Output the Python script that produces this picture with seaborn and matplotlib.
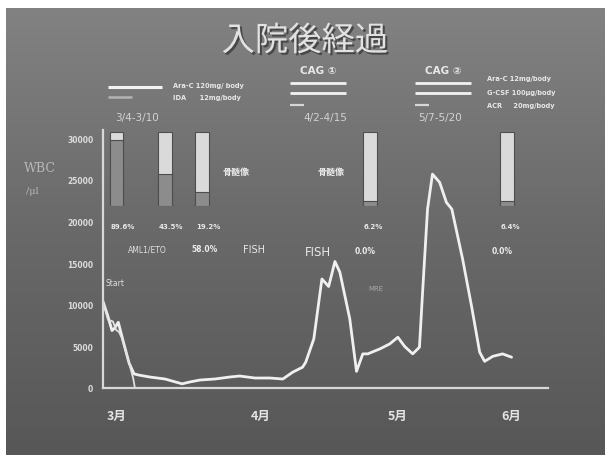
import numpy as np
import pandas as pd
import matplotlib.pyplot as plt
import matplotlib.patheffects as pe
from matplotlib.colors import LinearSegmentedColormap
from matplotlib.lines import Line2D
import seaborn as sns

# WBC course after admission (x = days on the chart axis)
wbc_day = [0, 1.1, 2, 2.6, 3.4, 4.5, 5.8, 6.9, 8, 10.4, 13.8, 17.6, 19.3, 21.6, 24.9,
           28.2, 30.4, 33.8, 37.1, 40, 42.2, 44.4, 45.1, 46.9, 48.7, 50.2, 51.6, 52.7,
           54.9, 56.4, 57.8, 58.9, 61.6, 63.8, 65.6, 67.1, 68.9, 70.4, 71.1, 72.2, 73.3,
           74.9, 76.4, 77.6, 80, 82, 83.8, 84.9, 86.7, 88.9, 90.9]
wbc = [10400, 8600, 6900, 7200, 7900, 5600, 3000, 1700, 1550, 1320, 1080, 500, 720, 960, 1080,
       1320, 1440, 1200, 1200, 1080, 1900, 2500, 3100, 5900, 13100, 12200, 15200, 13900,
       8300, 2000, 4100, 4100, 4700, 5300, 6100, 5000, 4100, 4900, 11500, 21500, 25700,
       24700, 22300, 21500, 15500, 9800, 4300, 3200, 3800, 4100, 3700]

blast_day = [0, 1.1, 2.2, 2.9, 3.6, 4.2, 5.5, 6.7, 7.1]
blast = [10400, 8200, 8000, 7000, 6700, 6000, 3600, 1200, 0]

month_day = [3, 35, 65.6, 90.9]
month_labels = ['3月', '4月', '5月', '6月']
y_ticks = [0, 5000, 10000, 15000, 20000, 25000, 30000]

# bone marrow blast ratio
bar_day = [3.0, 13.7, 22.1, 59.3, 89.9]
bar_pct = [89.6, 43.5, 19.2, 6.2, 6.4]
bar_labels = ['89.6%', '43.5%', '19.2%', '6.2%', '6.4%']

sns.set_theme(style='white')
plt.rcParams['font.family'] = ['DejaVu Sans', 'Noto Sans CJK JP']

W, H = 605, 456
fig = plt.figure(figsize=(6.05, 4.56), dpi=100)
fig.patch.set_facecolor('white')


def fx(x):
    return x / W


def fy(y):
    return 1 - y / H


# slide background
bg = fig.add_axes([fx(6), 0, 1 - fx(6), fy(9)])
grad = np.linspace(0, 1, 256)[:, None]
bg.imshow(grad, aspect='auto', extent=[0, 1, 0, 1],
          cmap=LinearSegmentedColormap.from_list('g', ['#828282', '#696969', '#575757']))
bg.axis('off')

# main chart
ax = fig.add_axes([fx(103), fy(389), fx(548) - fx(103), fy(131) - fy(389)])
ax.patch.set_alpha(0)
df = pd.DataFrame({'day': wbc_day, 'wbc': wbc})
sns.lineplot(data=df, x='day', y='wbc', ax=ax, color='#f0f0f0', lw=2.0, estimator=None)
sns.lineplot(x=blast_day, y=blast, ax=ax, color='#e2e2e2', lw=1.3, estimator=None)
ax.set_xlim(0, 99)
ax.set_ylim(0, 31000)
ax.set_xlabel('')
ax.set_ylabel('')
ax.set_xticks(month_day)
ax.set_xticklabels(month_labels, family='Noto Sans CJK JP', fontsize=9, fontweight='bold',
                   color='#e4e4e4')
ax.set_yticks(y_ticks)
ax.set_yticklabels([str(v) for v in y_ticks], fontsize=5.5, fontweight='bold', color='#dcdcdc')
ax.tick_params(axis='x', length=0, pad=15)
ax.tick_params(axis='y', length=0, pad=7)
for s in ['top', 'right']:
    ax.spines[s].set_visible(False)
for s in ['left', 'bottom']:
    ax.spines[s].set_color('#d8d8d8')
    ax.spines[s].set_linewidth(1.6)

# blast ratio bars
bx = fig.add_axes([fx(103), fy(207), fx(548) - fx(103), fy(133) - fy(207)])
bx.patch.set_alpha(0)
bx.bar(bar_day, [100] * len(bar_day), width=3.1, color='#dadada', edgecolor='#4e4e4e', lw=0.8)
bx.bar(bar_day, bar_pct, width=3.1, color='#8c8c8c', edgecolor='#4e4e4e', lw=0.8)
bx.set_xlim(0, 99)
bx.set_ylim(0, 100)
bx.axis('off')

for d, lab in zip(bar_day, bar_labels):
    xp = 103 + d * 445 / 99
    fig.text(fx(xp - 6), fy(227), lab, fontsize=5, fontweight='bold', color='#e8e8e8',
             va='center')

# title
fig.text(fx(305), fy(42), '入院後経過', family='Noto Sans CJK JP', fontsize=24, color='#e2e2e2',
         ha='center', va='center',
         path_effects=[pe.withSimplePatchShadow(offset=(1.5, -1.5), shadow_rgbFace='#3a3a3a', alpha=0.8)])


def hline(x0, x1, y, color='#f2f2f2', lw=2.2):
    fig.add_artist(Line2D([fx(x0), fx(x1)], [fy(y), fy(y)], color=color, lw=lw,
                          solid_capstyle='butt'))


# regimen legends
hline(108, 162, 88)
hline(108, 132, 98, color='#b4b4b4', lw=1.8)
fig.text(fx(173), fy(86), 'Ara-C 120mg/ body', fontsize=4.8, fontweight='bold', color='#e8e8e8', va='center')
fig.text(fx(173), fy(98), 'IDA      12mg/body', fontsize=4.8, fontweight='bold', color='#e8e8e8', va='center')

for x0, lab in [(290, 'CAG ①'), (415, 'CAG ②')]:
    fig.text(fx(x0 + 10), fy(71), lab, fontsize=7.5, fontweight='bold', color='#e8e8e8', va='center')
    hline(x0, x0 + 56, 84, lw=2.0)
    hline(x0, x0 + 56, 94, lw=2.0)
    hline(x0, x0 + 14, 106, color='#d6d6d6', lw=1.6)

fig.text(fx(487), fy(79), 'Ara-C 12mg/body', fontsize=4.8, fontweight='bold', color='#e8e8e8', va='center')
fig.text(fx(487), fy(93), 'G-CSF 100μg/body', fontsize=4.8, fontweight='bold', color='#e8e8e8', va='center')
fig.text(fx(487), fy(106), 'ACR     20mg/body', fontsize=4.8, fontweight='bold', color='#e8e8e8', va='center')

for x0, lab in [(115, '3/4-3/10'), (303, '4/2-4/15'), (418, '5/7-5/20')]:
    fig.text(fx(x0), fy(118), lab, fontsize=7.5, color='#d2d2d2', va='center')

# annotations
fig.text(fx(24), fy(168), 'WBC', family='DejaVu Serif', fontsize=9, color='#b8b8b8', va='center')
fig.text(fx(26), fy(192), '/μl', family='DejaVu Serif', fontsize=7, color='#b8b8b8', va='center')
fig.text(fx(222), fy(172), '骨髄像', family='Noto Sans CJK JP', fontsize=6.5, fontweight='bold', color='#eeeeee', va='center')
fig.text(fx(317), fy(172), '骨髄像', family='Noto Sans CJK JP', fontsize=6.5, fontweight='bold', color='#eeeeee', va='center')
fig.text(fx(128), fy(250), 'AML1/ETO', fontsize=5.5, color='#e0e0e0', va='center')
fig.text(fx(191), fy(250), '58.0%', fontsize=5.5, fontweight='bold', color='#ececec', va='center')
fig.text(fx(243), fy(250), 'FISH', fontsize=7, color='#e8e8e8', va='center')
fig.text(fx(305), fy(252), 'FISH', fontsize=8.5, color='#e8e8e8', va='center')
fig.text(fx(355), fy(252), '0.0%', fontsize=5.5, fontweight='bold', color='#ececec', va='center')
fig.text(fx(492), fy(252), '0.0%', fontsize=5.5, fontweight='bold', color='#ececec', va='center')
fig.text(fx(105), fy(284), 'Start', fontsize=5.5, color='#e0e0e0', va='center')
fig.text(fx(368), fy(289), 'MRE', fontsize=5, color='#a8a8a8', va='center')

fig.savefig('out.png', dpi=100)
